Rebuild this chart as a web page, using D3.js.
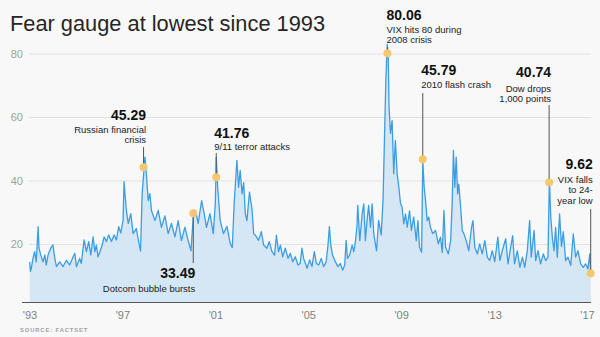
<!DOCTYPE html>
<html>
<head>
<meta charset="utf-8">
<script src="https://cdn.jsdelivr.net/npm/d3@7"></script>
<style>
  body { margin: 0; background: #f8f8f8; }
  svg { display: block; font-family: "Liberation Sans", Arial, sans-serif; }
</style>
</head>
<body>
<svg id="chart" width="600" height="337"></svg>
<script>
// VIX readings (decimal year, index level)
const years = [
  1993.01, 1993.04, 1993.08, 1993.15, 1993.22, 1993.29, 1993.37, 1993.41, 1993.48, 1993.58,
  1993.66, 1993.72, 1993.80, 1993.91, 1994.01, 1994.09, 1994.16, 1994.30, 1994.44, 1994.59,
  1994.73, 1994.88, 1994.95, 1995.02, 1995.16, 1995.23, 1995.35, 1995.45, 1995.55, 1995.64,
  1995.74, 1995.81, 1995.88, 1995.95, 1996.03, 1996.13, 1996.21, 1996.31, 1996.41, 1996.53,
  1996.64, 1996.74, 1996.84, 1996.93, 1997.03,
  1997.07, 1997.17, 1997.25, 1997.36, 1997.46, 1997.60, 1997.71, 1997.78, 1997.85, 1997.97,
  1998.03, 1998.11, 1998.18, 1998.25, 1998.40, 1998.54, 1998.68, 1998.83, 1998.97,
  1999.11, 1999.26, 1999.40, 1999.54, 1999.69, 1999.83, 1999.95,
  2000.05, 2000.15, 2000.26, 2000.41, 2000.52, 2000.62, 2000.77, 2000.91,
  2001.00, 2001.04, 2001.10, 2001.21, 2001.35, 2001.50, 2001.64, 2001.73, 2001.81, 2001.93,
  2002.00, 2002.07, 2002.15, 2002.22, 2002.29, 2002.36, 2002.47, 2002.58, 2002.65,
  2002.72, 2002.86, 2002.98,
  2003.08, 2003.22, 2003.32, 2003.44, 2003.55, 2003.63, 2003.72, 2003.80, 2003.90,
  2004.01, 2004.13, 2004.23, 2004.33, 2004.44, 2004.56, 2004.65, 2004.73, 2004.80, 2004.88, 2004.95,
  2005.06, 2005.16, 2005.26, 2005.35, 2005.45, 2005.56, 2005.66, 2005.77, 2005.85, 2005.91, 2005.97,
  2006.05, 2006.17, 2006.28, 2006.38, 2006.48, 2006.57, 2006.63, 2006.69, 2006.78, 2006.89, 2006.96,
  2007.03, 2007.10,
  2007.13, 2007.22, 2007.32, 2007.39, 2007.46, 2007.53, 2007.60, 2007.68, 2007.75, 2007.82,
  2007.94, 2008.03, 2008.14, 2008.22, 2008.28, 2008.34, 2008.40, 2008.44, 2008.48, 2008.54,
  2008.61, 2008.68, 2008.75, 2008.83, 2008.90, 2008.97, 2009.04, 2009.11, 2009.19, 2009.26,
  2009.36, 2009.44, 2009.54, 2009.65, 2009.72, 2009.79, 2009.88, 2009.93, 2009.99, 2010.05,
  2010.12, 2010.19, 2010.26, 2010.36, 2010.48, 2010.60, 2010.69, 2010.77, 2010.84, 2010.91,
  2011.03, 2011.13, 2011.20, 2011.25, 2011.31, 2011.37, 2011.43, 2011.48, 2011.56, 2011.63,
  2011.70, 2011.80, 2011.91, 2012.03, 2012.09, 2012.17, 2012.28, 2012.38, 2012.49, 2012.60,
  2012.71, 2012.81, 2012.92, 2013.03, 2013.16, 2013.25, 2013.35, 2013.50, 2013.60, 2013.71,
  2013.80, 2013.88, 2014.00, 2014.11, 2014.22, 2014.32, 2014.43, 2014.53, 2014.60, 2014.72,
  2014.79, 2014.89, 2015.00, 2015.12, 2015.22, 2015.32, 2015.38, 2015.44, 2015.51, 2015.58,
  2015.65, 2015.72, 2015.82, 2015.90, 2015.98, 2016.08, 2016.18, 2016.30, 2016.41, 2016.51,
  2016.61, 2016.73, 2016.84, 2016.94, 2017.04, 2017.12, 2017.16
]
const vix = [
  14.5, 11.5, 12.5, 15.6, 17.7, 14.5, 25.6, 18.8, 16.7, 14.5,
  16.7, 13.5, 16.7, 18.8, 19.8, 15.6, 13, 14.5, 13, 15,
  13.5, 16.1, 17.2, 13, 15.6, 14, 21.4, 17.7, 20.9, 16.7,
  22.4, 17.7, 19.8, 16.1, 17.7, 19.8, 22.4, 20.9, 23, 20.9,
  23, 21.4, 25.6, 23.6, 27.7,
  39.8, 30.7, 26.6, 29.7, 23.4, 25, 20.3, 18, 36, 47.5,
  42.3, 33.8, 36, 30.7, 27.5, 30.7, 25.4, 29, 23.4,
  26.6, 22.4, 27.5, 21.2, 25.4, 21.2, 18,
  28.6, 30.7, 26.6, 33.8, 29.7, 25.4, 29.7, 23.4,
  32.9, 47.5, 38, 27.5, 23.4, 25.7, 20.3, 19, 32.9, 46.5,
  38, 43.3, 36, 39.5, 29.7, 27.5, 36.5, 31, 23.4,
  22.9, 21.3, 24,
  19.8, 18.8, 20.9, 17.7, 16.6, 22.9, 17.7, 19.8, 16.1,
  18.8, 15.6, 17.2, 14.5, 16.1, 13.5, 14, 18.8, 15.6, 14, 12.5,
  15.1, 13, 17.7, 14, 13.5, 15.6, 13, 14.5, 19.8, 25.6, 19.8,
  16.6, 14.5, 13, 14, 11.9, 13.5, 21.3, 15.6, 16.6, 19.8, 17.7,
  20.9, 26,
  32.3, 21.2, 29.6, 32.8, 21.2, 27.5, 32.3, 25.4, 32.8, 23.3,
  18, 27.6, 23, 34, 52.8, 71.7, 83, 80, 63, 55,
  59, 42.3, 52.8, 42, 38, 33, 31.7, 26.5, 29.6, 25.4,
  30.6, 24.4, 28.6, 21.2, 27.5, 19.1, 17.5, 46.5, 38, 33.8,
  27.5, 28.6, 25.4, 23.4, 24.4, 20.2, 22.3, 17.5, 30.7, 19.1,
  17, 21.2, 33.8, 49.6, 38, 47.5, 35.9, 39, 31.7, 24.4,
  23.4, 21.2, 18, 25.4, 27.5, 19.1, 17, 20.2, 17, 21.2,
  16, 14.9, 18, 14.6, 22.3, 14.9, 18, 21.8, 13.9, 19,
  22.8, 13.9, 18, 12.8, 16, 12.8, 18, 27.5, 16, 24.4,
  14.9, 18, 13.9, 17, 14.9, 16, 40.7, 28.6, 22, 18,
  25.4, 16, 29.6, 19.4, 24, 14.9, 16, 13.4, 23.3, 16,
  18, 13.9, 12.8, 13.9, 12.3, 17, 11
]

const yTicks = [20, 40, 60, 80]
const xTicks = [1993, 1997, 2001, 2005, 2009, 2013, 2017]
const xTickLabels = ["'93", "'97", "'01", "'05", "'09", "'13", "'17"]

// annotated events
const annoYears = [1997.91, 2000.05, 2001.04, 2008.41, 2009.93, 2015.37, 2017.16]
const annoDots = [44.3, 29.8, 41.2, 80.2, 46.8, 39.5, 10.8]
const annoValues = ['45.29', '33.49', '41.76', '80.06', '45.79', '40.74', '9.62']
const annoNotes = [
  ['Russian financial', 'crisis'],
  ['Dotcom bubble bursts'],
  ['9/11 terror attacks'],
  ['VIX hits 80 during', '2008 crisis'],
  ['2010 flash crash'],
  ['Dow drops', '1,000 points'],
  ['VIX falls', 'to 24-', 'year low']
]

// label placement (pixels)
const annoLayout = [
  { anchor: 'end', dx: 2.5, vy: 120, ny: 132.5, lead: 147 },
  { anchor: 'end', dx: 2, vy: 278, ny: 291.5, lead: 263 },
  { anchor: 'start', dx: -2, vy: 138, ny: 150, lead: 153 },
  { anchor: 'start', dx: -1, vy: 20, ny: 32.5, lead: 47 },
  { anchor: 'start', dx: -1.5, vy: 75, ny: 87.5, lead: 93 },
  { anchor: 'end', dx: 2, vy: 77, ny: 91.5, lead: 105 },
  { anchor: 'end', dx: 2, vy: 169, ny: 182.5, lead: 209 }
]

const svg = d3.select('#chart')

const x = d3.scaleLinear().domain([1993, 2017]).range([29.5, 587])
const y = d3.scaleLinear().domain([1.7, 80]).range([302.5, 54])

const points = years.map((yr, i) => [yr, vix[i]])

svg.append('text')
  .attr('x', 10).attr('y', 31)
  .attr('font-size', 21.8)
  .attr('fill', '#262626')
  .text('Fear gauge at lowest since 1993')

// gridlines + y labels
const grid = svg.append('g')
grid.selectAll('line').data(yTicks).join('line')
  .attr('x1', 29).attr('x2', 591)
  .attr('y1', d => y(d)).attr('y2', d => y(d))
  .attr('stroke', '#e2e2e2').attr('stroke-width', 1)
grid.selectAll('text').data(yTicks).join('text')
  .attr('x', 23).attr('y', d => y(d) + 4)
  .attr('text-anchor', 'end')
  .attr('font-size', 11)
  .attr('fill', '#a0a0a0')
  .text(d => d)

const area = d3.area()
  .x(d => x(d[0]))
  .y0(y(1.7))
  .y1(d => y(d[1]))
svg.append('path')
  .attr('d', area(points))
  .attr('fill', '#d5e7f4')

const line = d3.line()
  .x(d => x(d[0]))
  .y(d => y(d[1]))
svg.append('path')
  .attr('d', line(points))
  .attr('fill', 'none')
  .attr('stroke', '#3d9de2')
  .attr('stroke-width', 1.3)
  .attr('stroke-linejoin', 'round')

// x axis
const xAxis = svg.append('g').attr('transform', `translate(0,${y(1.7)})`)
  .call(d3.axisBottom(x).tickValues(xTicks).tickSize(0).tickFormat((d, i) => xTickLabels[i]))
xAxis.select('.domain').remove()
xAxis.append('line')
  .attr('x1', 22).attr('x2', 591)
  .attr('stroke', '#555').attr('stroke-width', 1.2)
xAxis.selectAll('text')
  .attr('dy', 0).attr('y', 16.5)
  .attr('font-size', 11)
  .attr('font-family', '"Liberation Sans", Arial, sans-serif')
  .attr('fill', '#808080')

svg.append('text')
  .attr('x', 20).attr('y', 332)
  .attr('font-size', 5.8)
  .attr('font-weight', 'bold')
  .attr('letter-spacing', 0.9)
  .attr('fill', '#a0a0a0')
  .text('SOURCE: FACTSET')

// annotations
const annos = svg.append('g')
annoYears.forEach((yr, i) => {
  const lay = annoLayout[i]
  const cx = x(yr), cy = y(annoDots[i])
  annos.append('line')
    .attr('x1', cx).attr('x2', cx)
    .attr('y1', lay.lead).attr('y2', cy)
    .attr('stroke', '#555').attr('stroke-width', 1)
  annos.append('circle')
    .attr('cx', cx).attr('cy', cy).attr('r', 4)
    .attr('fill', '#f4c86f')
  annos.append('text')
    .attr('x', cx + lay.dx).attr('y', lay.vy)
    .attr('text-anchor', lay.anchor)
    .attr('font-size', 14).attr('font-weight', 'bold')
    .attr('fill', '#111')
    .text(annoValues[i])
  annoNotes[i].forEach((t, j) => {
    annos.append('text')
      .attr('x', cx + lay.dx).attr('y', lay.ny + j * 10.5)
      .attr('text-anchor', lay.anchor)
      .attr('font-size', 9.5)
      .attr('fill', '#222')
      .text(t)
  })
})
</script>
</body>
</html>
